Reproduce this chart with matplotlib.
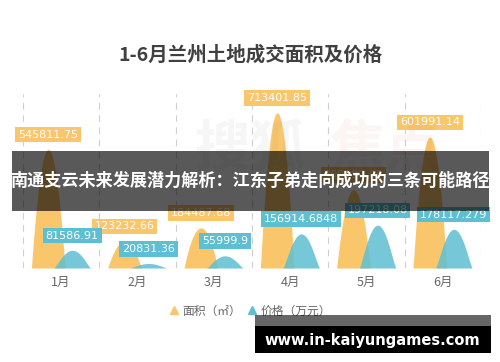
import numpy as np
import matplotlib.pyplot as plt
from matplotlib.patches import Rectangle
from matplotlib.lines import Line2D

plt.rcParams['font.family'] = ['Noto Sans CJK SC', 'DejaVu Sans']

# data
months = ['1月', '2月', '3月', '4月', '5月', '6月']
area = [545811.75, 123232.66, 184487.68, 713401.85, 360197.05, 601991.14]
price = [81586.91, 20831.36, 55999.9, 156914.6848, 197218.08, 178117.279]

title = '1-6月兰州土地成交面积及价格'
banner_text = '南通支云未来发展潜力解析：江东子弟走向成功的三条可能路径'
site_text = 'www.in-kaiyungames.com'

yellow = '#F9C66C'
blue = '#5EBFD2'


def main():
    fig = plt.figure(figsize=(5, 3.62), dpi=100)
    ax = fig.add_axes([23 / 500, 94 / 362, 458 / 500, 174 / 362])
    ax.set_xlim(-0.5, 5.5)
    ax.set_ylim(0, 800000)

    # faint background logo
    fig.text(0.5, 1 - 150 / 362, '搜狐', fontsize=40, fontweight='bold',
             color='#888888', alpha=0.07, ha='center', va='center')
    fig.text(0.77, 1 - 150 / 362, '焦点', fontsize=40, fontweight='bold',
             color='#e05050', alpha=0.06, ha='center', va='center')

    for b in np.arange(-0.5, 6):
        ax.axvline(b, color='#cfcfcf', lw=0.8, ls=(0, (6, 5)), zorder=1)

    u = np.linspace(-1, 1, 201)
    for i, (a, p) in enumerate(zip(area, price)):
        xa = i - 0.17
        xp = i + 0.145
        ax.fill_between(xa + u * 0.22, a * (1 - u ** 2), color=yellow,
                        lw=0, zorder=2)
        ax.fill_between(xp + u * 0.24, p * (1 - u ** 2) ** 1.3, color=blue,
                        alpha=0.85, lw=0, zorder=3)
        ax.annotate(f'{a}', (xa, a), xytext=(0, 7), textcoords='offset points',
                    ha='center', va='bottom', color='white', fontsize=8,
                    family='DejaVu Sans',
                    bbox=dict(boxstyle='square,pad=0.25', fc=yellow, ec='none'),
                    zorder=5)
        ax.annotate(f'{p}', (xp, p), xytext=(0, 7), textcoords='offset points',
                    ha='center', va='bottom', color='white', fontsize=8,
                    family='DejaVu Sans',
                    bbox=dict(boxstyle='square,pad=0.25', fc=blue, ec='none'),
                    zorder=6)

    ax.set_xticks(range(len(months)))
    ax.set_xticklabels(months, fontsize=9, color='#666666')
    ax.tick_params(axis='x', length=0, pad=6)
    ax.set_yticks([])
    for s in ax.spines.values():
        s.set_visible(False)

    fig.text(0.502, 1 - 55 / 362, title, fontsize=14, fontweight='bold',
             color='#404040', ha='center', va='center')

    handles = [Line2D([], [], ls='none', marker='^', ms=6, color=yellow),
               Line2D([], [], ls='none', marker='^', ms=6, color=blue)]
    fig.legend(handles, ['面积（㎡）', '价格（万元）'], loc='center',
               bbox_to_anchor=(0.5, 1 - 311 / 362), ncol=2, frameon=False,
               fontsize=8.5, labelcolor='#666666', handlelength=0.8,
               handletextpad=0.3, columnspacing=0.5)

    # overlay banner
    fig.add_artist(Rectangle((12 / 500, 1 - 211 / 362), 477 / 500, 60 / 362,
                             transform=fig.transFigure, fc='black', alpha=0.65,
                             ec='none', zorder=10))
    fig.text(0.5, 1 - 181 / 362, banner_text, fontsize=12.3, fontweight='bold',
             color='white', ha='center', va='center', zorder=11)

    # site stamp bottom right
    fig.add_artist(Rectangle((255 / 500, 1 - 326 / 362), 236 / 500, 11 / 362,
                             transform=fig.transFigure, fc='black', alpha=0.6,
                             ec='none', zorder=10))
    fig.add_artist(Rectangle((255 / 500, 1 - 353 / 362), 236 / 500, 27 / 362,
                             transform=fig.transFigure, fc='black',
                             ec='none', zorder=10))
    fig.text(372 / 500, 1 - 340 / 362, site_text, fontsize=10.5,
             fontweight='bold', family='DejaVu Sans', color='white',
             ha='center', va='center', zorder=11)

    fig.savefig('out.png', dpi=100)


if __name__ == '__main__':
    main()
